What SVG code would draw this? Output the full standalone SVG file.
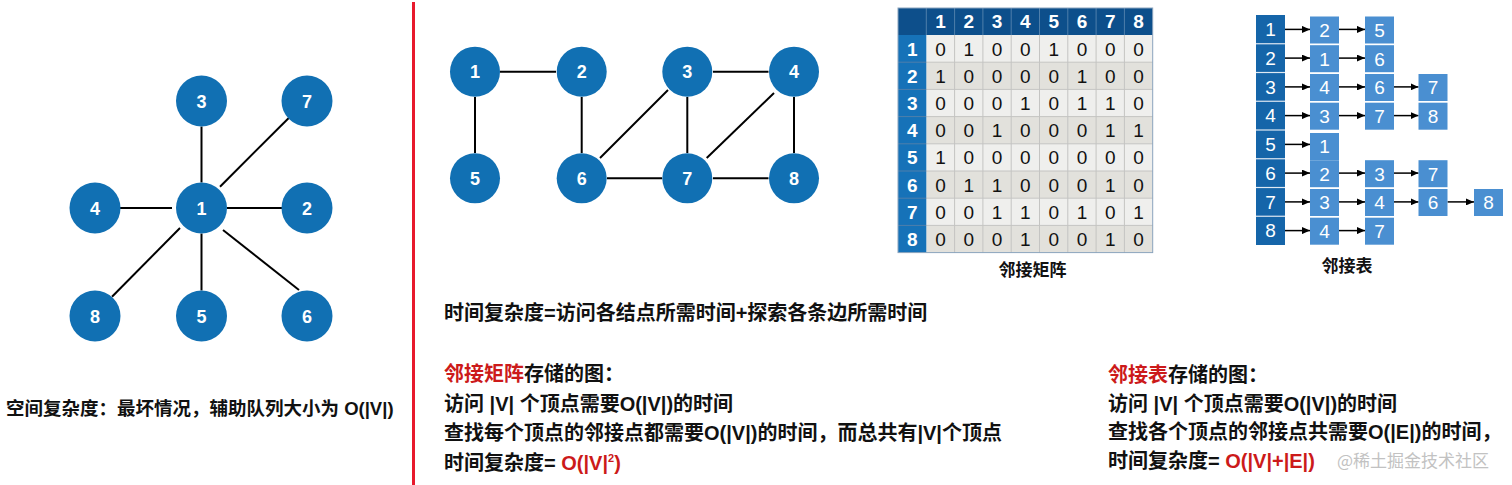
<svg xmlns="http://www.w3.org/2000/svg" width="1512" height="485" viewBox="0 0 1512 485">
<defs>
<style>
.edge{stroke:#000;stroke-width:2;fill:none}
.node circle{fill:#1170b3}
.node text{fill:#fff;font-family:"Liberation Sans","Noto Sans CJK SC",sans-serif;font-weight:bold;font-size:18px;text-anchor:middle}
.t{font-family:"Liberation Sans","Noto Sans CJK SC",sans-serif;font-weight:bold;font-size:20px;fill:#111}
.red{fill:#cc1a1a}
.hd{fill:#fff;font-family:"Liberation Sans",sans-serif;font-weight:bold;font-size:19px;text-anchor:middle}
.cell{fill:#111;font-family:"Liberation Sans",sans-serif;font-size:19px;text-anchor:middle}
.lbl{font-family:"Noto Sans CJK SC",sans-serif;font-weight:bold;font-size:17px;fill:#111;text-anchor:middle}
.box{fill:#4a8fd1}
.bn{fill:#fff;font-family:"Liberation Sans",sans-serif;font-size:19px;text-anchor:middle}
.arr{stroke:#000;stroke-width:1.5;fill:none;marker-end:url(#ah)}
.grid{stroke:#c4c4c2;stroke-width:1}
</style>
<marker id="ah" viewBox="0 0 8 7" refX="8" refY="3.5" markerWidth="8" markerHeight="7" markerUnits="userSpaceOnUse" orient="auto">
<path d="M0,0 L8,3.5 L0,7 z" fill="#000"/>
</marker>
</defs>
<rect width="1512" height="485" fill="#fff"/>

<!-- red divider -->
<line x1="413.5" y1="2" x2="413.5" y2="485" stroke="#e8192c" stroke-width="3"/>

<!-- left graph connectors -->
<g id="left-edges" class="edge">
<line x1="201.5" y1="126.5" x2="201.5" y2="182.5"/>
<line x1="220" y1="186.7" x2="289" y2="117.7"/>
<line x1="120" y1="208" x2="172" y2="208"/>
<line x1="227" y1="208" x2="282" y2="208"/>
<line x1="180" y1="228" x2="112" y2="296.7"/>
<line x1="201.5" y1="233.5" x2="201.5" y2="290.5"/>
<line x1="223" y1="230" x2="299" y2="290"/>
</g>
<g id="L1" class="node"><circle cx="201.5" cy="208" r="25.5"/><text x="201.5" y="214.5">1</text></g>
<g id="L2" class="node"><circle cx="307" cy="208" r="25.5"/><text x="307" y="214.5">2</text></g>
<g id="L3" class="node"><circle cx="201.5" cy="101" r="25.5"/><text x="201.5" y="107.5">3</text></g>
<g id="L4" class="node"><circle cx="95" cy="208" r="25.5"/><text x="95" y="214.5">4</text></g>
<g id="L5" class="node"><circle cx="201.5" cy="316" r="25.5"/><text x="201.5" y="322.5">5</text></g>
<g id="L6" class="node"><circle cx="307" cy="316" r="25.5"/><text x="307" y="322.5">6</text></g>
<g id="L7" class="node"><circle cx="307" cy="101" r="25.5"/><text x="307" y="107.5">7</text></g>
<g id="L8" class="node"><circle cx="95" cy="316" r="25.5"/><text x="95" y="322.5">8</text></g>

<text class="t" x="6" y="415" style="font-size:18.5px">空间复杂度：最坏情况，辅助队列大小为 O(|V|)</text>

<!-- middle graph connectors -->
<g id="mid-edges" class="edge">
<line x1="500" y1="71.7" x2="556" y2="71.7"/>
<line x1="475" y1="97" x2="475" y2="153"/>
<line x1="581.7" y1="97" x2="581.7" y2="153"/>
<line x1="713" y1="71.7" x2="768.5" y2="71.7"/>
<line x1="668" y1="90" x2="600" y2="158"/>
<line x1="687.3" y1="97" x2="687.3" y2="153"/>
<line x1="774" y1="93" x2="706.7" y2="158"/>
<line x1="794" y1="97" x2="794" y2="153"/>
<line x1="607" y1="178.3" x2="662" y2="178.3"/>
<line x1="713" y1="178.3" x2="768.5" y2="178.3"/>
</g>
<g id="M1" class="node"><circle cx="475" cy="71.7" r="25"/><text x="475" y="78.2">1</text></g>
<g id="M2" class="node"><circle cx="581.7" cy="71.7" r="25"/><text x="581.7" y="78.2">2</text></g>
<g id="M3" class="node"><circle cx="687.3" cy="71.7" r="25"/><text x="687.3" y="78.2">3</text></g>
<g id="M4" class="node"><circle cx="794" cy="71.7" r="25"/><text x="794" y="78.2">4</text></g>
<g id="M5" class="node"><circle cx="475" cy="178.3" r="25"/><text x="475" y="184.8">5</text></g>
<g id="M6" class="node"><circle cx="581.7" cy="178.3" r="25"/><text x="581.7" y="184.8">6</text></g>
<g id="M7" class="node"><circle cx="687.3" cy="178.3" r="25"/><text x="687.3" y="184.8">7</text></g>
<g id="M8" class="node"><circle cx="794" cy="178.3" r="25"/><text x="794" y="184.8">8</text></g>

<!-- adjacency matrix -->
<g id="matrix">
<rect x="926.3" y="35" width="226.4" height="27.2" fill="#efefed"/>
<rect x="926.3" y="62.2" width="226.4" height="27.2" fill="#e2e1dc"/>
<rect x="926.3" y="89.4" width="226.4" height="27.2" fill="#efefed"/>
<rect x="926.3" y="116.6" width="226.4" height="27.2" fill="#e2e1dc"/>
<rect x="926.3" y="143.8" width="226.4" height="27.2" fill="#efefed"/>
<rect x="926.3" y="171" width="226.4" height="27.2" fill="#e2e1dc"/>
<rect x="926.3" y="198.2" width="226.4" height="27.2" fill="#efefed"/>
<rect x="926.3" y="225.4" width="226.4" height="27.2" fill="#e2e1dc"/>
<rect x="898" y="8" width="254.7" height="27" fill="#0d4f8b"/>
<rect x="898" y="35" width="28.3" height="217.6" fill="#1672b8"/>
<g class="grid">
<line x1="954.6" y1="35" x2="954.6" y2="252.6"/>
<line x1="982.9" y1="35" x2="982.9" y2="252.6"/>
<line x1="1011.2" y1="35" x2="1011.2" y2="252.6"/>
<line x1="1039.5" y1="35" x2="1039.5" y2="252.6"/>
<line x1="1067.8" y1="35" x2="1067.8" y2="252.6"/>
<line x1="1096.1" y1="35" x2="1096.1" y2="252.6"/>
<line x1="1124.4" y1="35" x2="1124.4" y2="252.6"/>
<line x1="926.3" y1="62.2" x2="1152.7" y2="62.2"/>
<line x1="926.3" y1="89.4" x2="1152.7" y2="89.4"/>
<line x1="926.3" y1="116.6" x2="1152.7" y2="116.6"/>
<line x1="926.3" y1="143.8" x2="1152.7" y2="143.8"/>
<line x1="926.3" y1="171" x2="1152.7" y2="171"/>
<line x1="926.3" y1="198.2" x2="1152.7" y2="198.2"/>
<line x1="926.3" y1="225.4" x2="1152.7" y2="225.4"/>
</g>
<g stroke="#4f7fab" stroke-width="1">
<line x1="926.3" y1="8" x2="926.3" y2="35"/>
<line x1="954.6" y1="8" x2="954.6" y2="35"/>
<line x1="982.9" y1="8" x2="982.9" y2="35"/>
<line x1="1011.2" y1="8" x2="1011.2" y2="35"/>
<line x1="1039.5" y1="8" x2="1039.5" y2="35"/>
<line x1="1067.8" y1="8" x2="1067.8" y2="35"/>
<line x1="1096.1" y1="8" x2="1096.1" y2="35"/>
<line x1="1124.4" y1="8" x2="1124.4" y2="35"/>
<line x1="898" y1="62.2" x2="926.3" y2="62.2"/>
<line x1="898" y1="89.4" x2="926.3" y2="89.4"/>
<line x1="898" y1="116.6" x2="926.3" y2="116.6"/>
<line x1="898" y1="143.8" x2="926.3" y2="143.8"/>
<line x1="898" y1="171" x2="926.3" y2="171"/>
<line x1="898" y1="198.2" x2="926.3" y2="198.2"/>
<line x1="898" y1="225.4" x2="926.3" y2="225.4"/>
</g>
<rect x="898" y="8" width="254.7" height="244.6" fill="none" stroke="#8aa3bd" stroke-width="1"/>
<g class="hd">
<text x="940.5" y="28.2">1</text><text x="968.8" y="28.2">2</text><text x="997.1" y="28.2">3</text><text x="1025.4" y="28.2">4</text><text x="1053.7" y="28.2">5</text><text x="1082" y="28.2">6</text><text x="1110.3" y="28.2">7</text><text x="1138.6" y="28.2">8</text>
<text x="912.2" y="55.5">1</text><text x="912.2" y="82.7">2</text><text x="912.2" y="109.9">3</text><text x="912.2" y="137.1">4</text><text x="912.2" y="164.3">5</text><text x="912.2" y="191.5">6</text><text x="912.2" y="218.7">7</text><text x="912.2" y="245.9">8</text>
</g>
<g class="cell">
<text x="940.5" y="55.5">0</text><text x="968.8" y="55.5">1</text><text x="997.1" y="55.5">0</text><text x="1025.4" y="55.5">0</text><text x="1053.7" y="55.5">1</text><text x="1082" y="55.5">0</text><text x="1110.3" y="55.5">0</text><text x="1138.6" y="55.5">0</text>
<text x="940.5" y="82.7">1</text><text x="968.8" y="82.7">0</text><text x="997.1" y="82.7">0</text><text x="1025.4" y="82.7">0</text><text x="1053.7" y="82.7">0</text><text x="1082" y="82.7">1</text><text x="1110.3" y="82.7">0</text><text x="1138.6" y="82.7">0</text>
<text x="940.5" y="109.9">0</text><text x="968.8" y="109.9">0</text><text x="997.1" y="109.9">0</text><text x="1025.4" y="109.9">1</text><text x="1053.7" y="109.9">0</text><text x="1082" y="109.9">1</text><text x="1110.3" y="109.9">1</text><text x="1138.6" y="109.9">0</text>
<text x="940.5" y="137.1">0</text><text x="968.8" y="137.1">0</text><text x="997.1" y="137.1">1</text><text x="1025.4" y="137.1">0</text><text x="1053.7" y="137.1">0</text><text x="1082" y="137.1">0</text><text x="1110.3" y="137.1">1</text><text x="1138.6" y="137.1">1</text>
<text x="940.5" y="164.3">1</text><text x="968.8" y="164.3">0</text><text x="997.1" y="164.3">0</text><text x="1025.4" y="164.3">0</text><text x="1053.7" y="164.3">0</text><text x="1082" y="164.3">0</text><text x="1110.3" y="164.3">0</text><text x="1138.6" y="164.3">0</text>
<text x="940.5" y="191.5">0</text><text x="968.8" y="191.5">1</text><text x="997.1" y="191.5">1</text><text x="1025.4" y="191.5">0</text><text x="1053.7" y="191.5">0</text><text x="1082" y="191.5">0</text><text x="1110.3" y="191.5">1</text><text x="1138.6" y="191.5">0</text>
<text x="940.5" y="218.7">0</text><text x="968.8" y="218.7">0</text><text x="997.1" y="218.7">1</text><text x="1025.4" y="218.7">1</text><text x="1053.7" y="218.7">0</text><text x="1082" y="218.7">1</text><text x="1110.3" y="218.7">0</text><text x="1138.6" y="218.7">1</text>
<text x="940.5" y="245.9">0</text><text x="968.8" y="245.9">0</text><text x="997.1" y="245.9">0</text><text x="1025.4" y="245.9">1</text><text x="1053.7" y="245.9">0</text><text x="1082" y="245.9">0</text><text x="1110.3" y="245.9">1</text><text x="1138.6" y="245.9">0</text>
</g>
<text class="lbl" x="1032.5" y="276">邻接矩阵</text>
</g>

<!-- adjacency list -->
<g id="adjlist">
<rect x="1256" y="15" width="29" height="230" fill="#1565a9"/>
<g stroke="#dfe9f3" stroke-width="1.2">
<line x1="1256" y1="43.75" x2="1285" y2="43.75"/>
<line x1="1256" y1="72.5" x2="1285" y2="72.5"/>
<line x1="1256" y1="101.25" x2="1285" y2="101.25"/>
<line x1="1256" y1="130" x2="1285" y2="130"/>
<line x1="1256" y1="158.75" x2="1285" y2="158.75"/>
<line x1="1256" y1="187.5" x2="1285" y2="187.5"/>
<line x1="1256" y1="216.25" x2="1285" y2="216.25"/>
</g>
<g class="bn">
<text x="1270.5" y="36.2">1</text><text x="1270.5" y="64.9">2</text><text x="1270.5" y="93.7">3</text><text x="1270.5" y="122.4">4</text><text x="1270.5" y="151.2">5</text><text x="1270.5" y="179.9">6</text><text x="1270.5" y="208.7">7</text><text x="1270.5" y="237.4">8</text>
</g>
<g id="list-arrows">
<line class="arr" x1="1285" y1="29.4" x2="1310" y2="29.4"/><line class="arr" x1="1339" y1="29.4" x2="1365" y2="29.4"/>
<line class="arr" x1="1285" y1="58.1" x2="1310" y2="58.1"/><line class="arr" x1="1339" y1="58.1" x2="1365" y2="58.1"/>
<line class="arr" x1="1285" y1="86.9" x2="1310" y2="86.9"/><line class="arr" x1="1339" y1="86.9" x2="1365" y2="86.9"/><line class="arr" x1="1394" y1="86.9" x2="1418.5" y2="86.9"/>
<line class="arr" x1="1285" y1="115.6" x2="1310" y2="115.6"/><line class="arr" x1="1339" y1="115.6" x2="1365" y2="115.6"/><line class="arr" x1="1394" y1="115.6" x2="1418.5" y2="115.6"/>
<line class="arr" x1="1285" y1="144.4" x2="1310" y2="144.4"/>
<line class="arr" x1="1285" y1="173.1" x2="1310" y2="173.1"/><line class="arr" x1="1339" y1="173.1" x2="1365" y2="173.1"/><line class="arr" x1="1394" y1="173.1" x2="1418.5" y2="173.1"/>
<line class="arr" x1="1285" y1="201.9" x2="1310" y2="201.9"/><line class="arr" x1="1339" y1="201.9" x2="1365" y2="201.9"/><line class="arr" x1="1394" y1="201.9" x2="1418.5" y2="201.9"/><line class="arr" x1="1447.5" y1="201.9" x2="1474" y2="201.9"/>
<line class="arr" x1="1285" y1="230.6" x2="1310" y2="230.6"/><line class="arr" x1="1339" y1="230.6" x2="1365" y2="230.6"/>
</g>
<g class="box">
<rect x="1310" y="16.5" width="29" height="27"/><rect x="1365" y="16.5" width="29" height="27"/>
<rect x="1310" y="45.2" width="29" height="27"/><rect x="1365" y="45.2" width="29" height="27"/>
<rect x="1310" y="74" width="29" height="27"/><rect x="1365" y="74" width="29" height="27"/><rect x="1418.5" y="74" width="29" height="27"/>
<rect x="1310" y="102.7" width="29" height="27"/><rect x="1365" y="102.7" width="29" height="27"/><rect x="1418.5" y="102.7" width="29" height="27"/>
<rect x="1310" y="133" width="29" height="27"/>
<rect x="1310" y="160.2" width="29" height="27"/><rect x="1365" y="160.2" width="29" height="27"/><rect x="1418.5" y="160.2" width="29" height="27"/>
<rect x="1310" y="189" width="29" height="27"/><rect x="1365" y="189" width="29" height="27"/><rect x="1418.5" y="189" width="29" height="27"/><rect x="1474" y="189" width="29" height="27"/>
<rect x="1310" y="217.7" width="29" height="27"/><rect x="1365" y="217.7" width="29" height="27"/>
</g>
<g class="bn">
<text x="1324.5" y="36.8">2</text><text x="1379.5" y="36.8">5</text>
<text x="1324.5" y="65.5">1</text><text x="1379.5" y="65.5">6</text>
<text x="1324.5" y="94.3">4</text><text x="1379.5" y="94.3">6</text><text x="1433" y="94.3">7</text>
<text x="1324.5" y="123">3</text><text x="1379.5" y="123">7</text><text x="1433" y="123">8</text>
<text x="1324.5" y="153.3">1</text>
<text x="1324.5" y="180.5">2</text><text x="1379.5" y="180.5">3</text><text x="1433" y="180.5">7</text>
<text x="1324.5" y="209.3">3</text><text x="1379.5" y="209.3">4</text><text x="1433" y="209.3">6</text><text x="1488.5" y="209.3">8</text>
<text x="1324.5" y="238">4</text><text x="1379.5" y="238">7</text>
</g>
<text class="lbl" x="1347" y="272">邻接表</text>
</g>

<!-- middle text block -->
<text class="t" x="444" y="320">时间复杂度=访问各结点所需时间+探索各条边所需时间</text>
<text class="t" x="444" y="381"><tspan class="red">邻接矩阵</tspan>存储的图：</text>
<text class="t" x="444" y="411">访问 |V| 个顶点需要O(|V|)的时间</text>
<text class="t" x="444" y="440">查找每个顶点的邻接点都需要O(|V|)的时间，而总共有|V|个顶点</text>
<text class="t" x="444" y="470">时间复杂度= <tspan class="red">O(|V|<tspan style="font-size:11px" dy="-8">2</tspan><tspan dy="8">)</tspan></tspan></text>

<!-- right text block -->
<text class="t" x="1108" y="382"><tspan class="red">邻接表</tspan>存储的图：</text>
<text class="t" x="1108" y="411">访问 |V| 个顶点需要O(|V|)的时间</text>
<text class="t" x="1108" y="439">查找各个顶点的邻接点共需要O(|E|)的时间，</text>
<text class="t" x="1108" y="468">时间复杂度= <tspan class="red">O(|V|+|E|)</tspan></text>
<text x="1337" y="467" style="font-family:'Noto Sans CJK SC',sans-serif;font-size:17px;fill:#c2c2c2">@稀土掘金技术社区</text>
</svg>
